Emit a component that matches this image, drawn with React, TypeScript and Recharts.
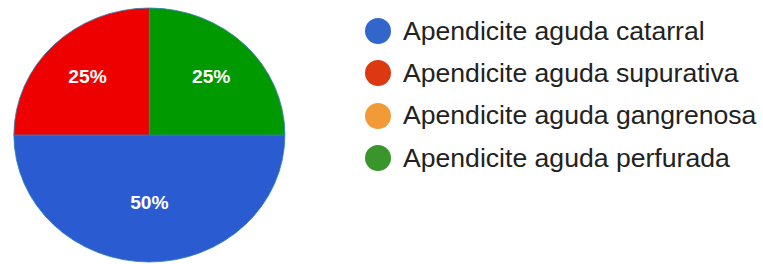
import { PieChart, Pie, Cell } from "recharts";

const categories = [
  "Apendicite aguda catarral",
  "Apendicite aguda supurativa",
  "Apendicite aguda gangrenosa",
  "Apendicite aguda perfurada",
];
const values = [50, 25, 0, 25];
const sliceColors = ["#2b5bd0", "#ee0000", "#f29a38", "#009900"];
const legendColors = ["#3366cc", "#dc3912", "#f29a38", "#3a962a"];

const chartData = categories.map((name, i) => ({ name, value: values[i] }));
const total = values.reduce((a, b) => a + b, 0);

const RADIAN = Math.PI / 180;

function renderLabel(props: any) {
  const { cx, cy, midAngle, outerRadius, value } = props;
  if (!value) return null;
  const share = value / total;
  // big slices get their label pulled in a bit, like the original
  const r = outerRadius * (share >= 0.5 ? 0.53 : 0.645);
  const x = cx + r * Math.cos(-midAngle * RADIAN);
  const y = cy + r * Math.sin(-midAngle * RADIAN);
  return (
    <text
      x={x}
      y={y}
      fill="#ffffff"
      textAnchor="middle"
      dominantBaseline="central"
      fontSize={18}
      fontWeight="bold"
      fontFamily="'Liberation Sans', Arial, sans-serif"
    >
      {Math.round(share * 100)}%
    </text>
  );
}

export default function App() {
  return (
    <div
      style={{
        position: "absolute",
        left: 0,
        top: 0,
        width: 763,
        height: 264,
        background: "#ffffff",
        overflow: "hidden",
      }}
    >
      <div
        style={{
          position: "absolute",
          left: 0,
          top: 0,
          transform: "scaleX(1.067)",
          transformOrigin: "0 0",
        }}
      >
        <PieChart
          width={280}
          height={264}
          margin={{ top: 0, right: 0, bottom: 0, left: 0 }}
        >
          <Pie
            data={chartData}
            dataKey="value"
            nameKey="name"
            cx={140}
            cy={135}
            outerRadius={127}
            startAngle={0}
            endAngle={-360}
            stroke="#2f7fb0"
            strokeWidth={0.8}
            label={renderLabel}
            labelLine={false}
            isAnimationActive={false}
          >
            {chartData.map((d, i) => (
              <Cell key={d.name} fill={sliceColors[i]} />
            ))}
          </Pie>
        </PieChart>
      </div>
      <div
        style={{
          position: "absolute",
          left: 365,
          top: 10,
          fontFamily: "'Liberation Sans', Arial, sans-serif",
          fontSize: 26.6,
          color: "#222222",
        }}
      >
        {categories.map((name, i) => (
          <div
            key={name}
            style={{
              display: "flex",
              alignItems: "center",
              height: 42.3,
              whiteSpace: "nowrap",
            }}
          >
            <span
              style={{
                display: "inline-block",
                width: 26,
                height: 26,
                borderRadius: "50%",
                background: legendColors[i],
                marginRight: 12,
              }}
            />
            {name}
          </div>
        ))}
      </div>
    </div>
  );
}
